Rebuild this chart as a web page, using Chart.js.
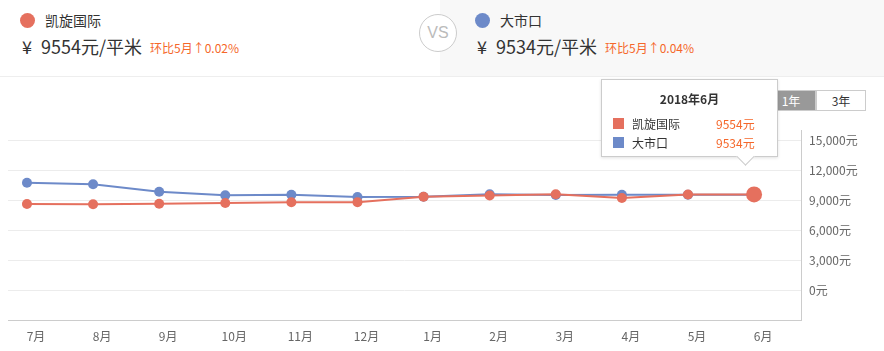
<!DOCTYPE html>
<html><head><meta charset="utf-8">
<script src="https://cdn.jsdelivr.net/npm/chart.js@4/dist/chart.umd.min.js"></script>
<style>
html,body{margin:0;padding:0}
body{width:884px;height:351px;position:relative;overflow:hidden;background:#fff;font-family:"Microsoft YaHei","Noto Sans CJK SC","Noto Sans",sans-serif;color:#333}
.abs{position:absolute;white-space:nowrap}
#pl{left:0;top:0;width:440px;height:76px;background:#fff;border-bottom:1px solid #eee}
#pr{left:440px;top:0;width:444px;height:76px;background:#f8f8f8;border-bottom:1px solid #eee}
.dot{width:15px;height:15px;border-radius:50%}
.name{font-size:14px;line-height:20px}
.price{font-size:18px;line-height:24px;color:#333}
.mom{font-size:12px;line-height:16px;color:#f5672a}
#vs{left:419px;top:14px;width:36px;height:36px;border:1px solid #ccc;border-radius:50%;background:#fff;color:#bbb;font-size:16px;line-height:36px;text-align:center;font-family:Arial,"Liberation Sans",sans-serif}
#c{position:absolute;left:0;top:76px}
.btn{top:90px;height:19px;width:48px;border:1px solid #ccc;font-size:12px;line-height:19px;text-align:center}
#tip{left:601px;top:79px;width:175px;height:76px;background:#fff;border:1px solid #ccc;box-shadow:0 1px 3px rgba(0,0,0,0.12);z-index:5}
#caret{left:739px;top:150px;width:12px;height:12px;background:#fff;border-right:1px solid #ccc;border-bottom:1px solid #ccc;transform:rotate(45deg);z-index:6}
.tt{font-size:12px;line-height:16px}
.sq{width:11px;height:11px}
</style></head><body>
<div id="pl" class="abs"></div>
<div id="pr" class="abs"></div>
<div id="vs" class="abs">VS</div>
<canvas id="c" width="884" height="275"></canvas>
<div id="header"></div>
<div class="abs btn" style="left:766px;background:#999;color:#fff">1年</div>
<div class="abs btn" style="left:816px;background:#fff;color:#333">3年</div>
<div id="tip" class="abs"></div>
<div id="caret" class="abs"></div>
<script>
const months = ['7月','8月','9月','10月','11月','12月','1月','2月','3月','4月','5月','6月'];
const seriesNames = ['凯旋国际','大市口'];
const kaixuan = [8600,8570,8630,8700,8770,8770,9330,9450,9570,9200,9552,9554];
const dashikou = [10730,10570,9830,9470,9530,9300,9330,9570,9500,9530,9530,9534];
const momTexts = ['环比5月↑0.02%','环比5月↑0.04%'];
const tooltipTitle = '2018年6月';
const yTicks = [0,3000,6000,9000,12000,15000];

const RED = '#e5705e';
const BLUE = '#6d8ac9';
const colors = [RED, BLUE];
const series = [kaixuan, dashikou];

// header
const hdr = document.getElementById('header');
const hx = [{dot:20,name:45,yen:22,price:41,mom:150},{dot:475,name:500,yen:477,price:496,mom:605}];
series.forEach((s,i)=>{
  const p = hx[i];
  const last = s[s.length-1];
  hdr.insertAdjacentHTML('beforeend',
    `<div class="abs dot" style="left:${p.dot}px;top:13px;background:${colors[i]}"></div>`+
    `<div class="abs name" style="left:${p.name}px;top:10px">${seriesNames[i]}</div>`+
    `<div class="abs price" style="left:${p.yen}px;top:34px">¥</div>`+
    `<div class="abs price" style="left:${p.price}px;top:34px">${last}元/平米</div>`+
    `<div class="abs mom" style="left:${p.mom}px;top:40px">${momTexts[i]}</div>`);
});

// tooltip
const tip = document.getElementById('tip');
let th = `<div class="abs tt" style="left:0;width:175px;text-align:center;top:11px;font-weight:bold">${tooltipTitle}</div>`;
series.forEach((s,i)=>{
  const top = 38 + i*19;
  th += `<div class="abs sq" style="left:11px;top:${top}px;background:${colors[i]}"></div>`+
        `<div class="abs tt" style="left:30px;top:${top-2}px;color:#333">${seriesNames[i]}</div>`+
        `<div class="abs tt" style="left:114px;top:${top-2}px;color:#f5672a">${s[s.length-1]}元</div>`;
});
tip.innerHTML = th;

Chart.defaults.font.family = '"Microsoft YaHei","Noto Sans CJK SC","Noto Sans",sans-serif';
Chart.defaults.font.size = 12;
Chart.defaults.color = '#666';

const lastIdx = months.length - 1;
function ds(i){
  return {
    label: seriesNames[i],
    data: series[i].map((v,k)=>({x:k,y:v})),
    borderColor: colors[i],
    backgroundColor: colors[i],
    pointBackgroundColor: colors[i],
    pointBorderColor: colors[i],
    pointBorderWidth: 0,
    pointRadius: c => (i===0 && c.dataIndex===lastIdx) ? 8 : 5,
    borderWidth: 2,
    tension: 0,
    fill: false
  };
}

new Chart(document.getElementById('c'), {
  type: 'line',
  data: { datasets: [ds(0), ds(1)] },
  options: {
    responsive: false,
    animation: false,
    events: [],
    layout: { padding: { left: 8, top: 54, right: 0, bottom: 0 } },
    plugins: { legend: { display: false }, tooltip: { enabled: false } },
    scales: {
      x: {
        type: 'linear',
        min: -0.287, max: 11.71,
        grid: { display: false, drawTicks: false },
        border: { display: true, color: '#ccc', width: 1 },
        ticks: { autoSkip: false, maxRotation: 0, padding: 9, labelOffset: 9, color: '#666',
                 callback: v => months[v] },
        afterBuildTicks: s => { s.ticks = months.map((m,k)=>({value:k})); },
        afterFit: s => { s.height = 31; }
      },
      y: {
        position: 'right',
        min: -3000, max: 16000,
        grid: { color: '#ececec', drawTicks: false },
        border: { display: true, color: '#ccc', width: 1 },
        ticks: { padding: 8, color: '#666', callback: v => v.toLocaleString('en-US') + '元' },
        afterBuildTicks: s => { s.ticks = yTicks.map(v=>({value:v})); },
        afterFit: s => { s.width = 83; }
      }
    }
  }
});
</script>
</body></html>
